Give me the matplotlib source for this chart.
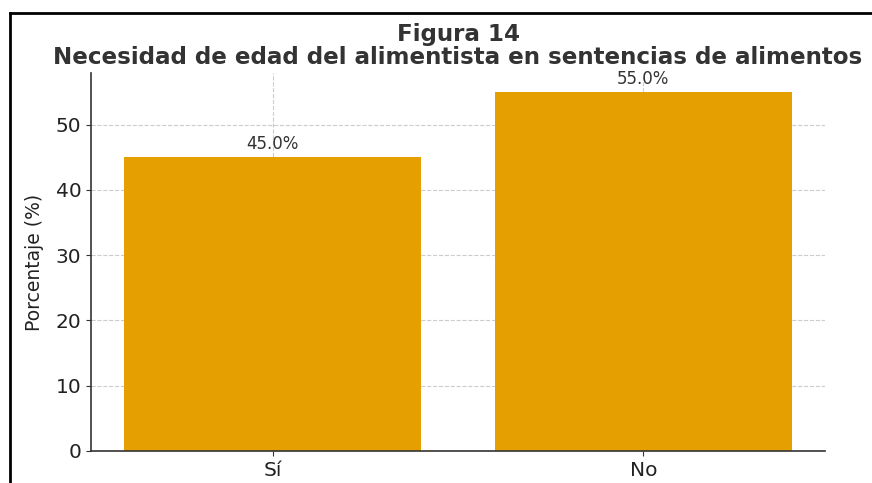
import matplotlib
matplotlib.use("Agg")
import matplotlib.pyplot as plt
from matplotlib.lines import Line2D

categories = ["Sí", "No"]
values = [45.0, 55.0]
title = "Figura 14\nNecesidad de edad del alimentista en sentencias de alimentos"
ylabel = "Porcentaje (%)"

fig = plt.figure(figsize=(8.72, 4.83), dpi=100)
ax = fig.add_axes([91/872, (483-451)/483, (825-91)/872, (451-73)/483])

bars = ax.bar(categories, values, width=0.8, color="#E69F00", zorder=2)
ax.set_ylim(0, 57.9)
ax.set_yticks([0, 10, 20, 30, 40, 50])
for b, v in zip(bars, values):
    ax.text(b.get_x() + b.get_width()/2, v + 0.6, f"{v:.1f}%", ha="center", va="bottom",
            fontsize=12, color="#333333", zorder=3)

ax.grid(True, linestyle="--", color="#cccccc", linewidth=0.8, zorder=0)
ax.set_axisbelow(True)
for s in ["top", "right"]:
    ax.spines[s].set_visible(False)
for s in ["left", "bottom"]:
    ax.spines[s].set_color("#333333")
    ax.spines[s].set_linewidth(1.2)
ax.tick_params(axis="both", labelsize=14.5, colors="#333333", labelcolor="#222222")
ax.set_ylabel(ylabel, fontsize=13.5, color="#222222", labelpad=8)

fig.text(458/872, 1 - 46/483, title, ha="center", va="center", fontsize=16.6,
         fontweight="bold", color="#333333", linespacing=0.97)

# screenshot frame lines
fig.add_artist(Line2D([10/872, 10/872], [0, 1 - 13/483], transform=fig.transFigure,
                      color="black", linewidth=2))
fig.add_artist(Line2D([10/872, 1], [1 - 13/483, 1 - 13/483], transform=fig.transFigure,
                      color="black", linewidth=2))

fig.savefig("out.png", dpi=100)
